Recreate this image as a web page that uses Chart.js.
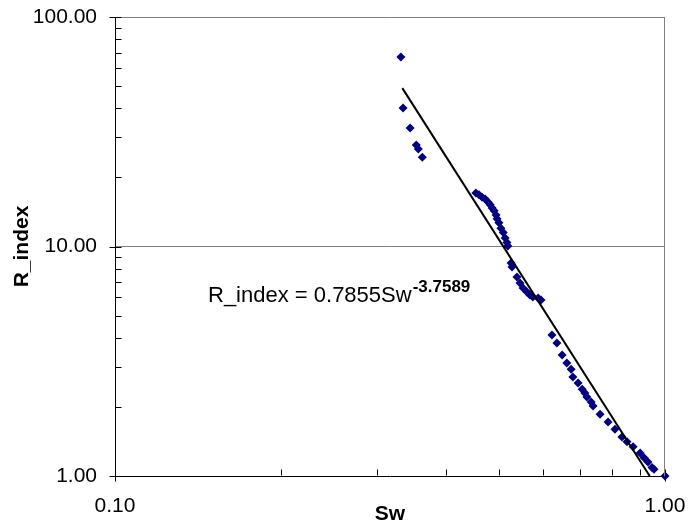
<!DOCTYPE html>
<html><head><meta charset="utf-8">
<script src="https://cdn.jsdelivr.net/npm/chart.js@4/dist/chart.umd.min.js"></script>
<style>html,body{margin:0;padding:0;background:#fff}canvas{display:block}</style>
</head><body>
<canvas id="c" width="690" height="527"></canvas>
<script>
const swValues = [0.331,0.334,0.344,0.353,0.356,0.362,
  0.453,0.459,0.465,0.471,0.477,0.481,0.485,0.489,0.493,0.495,0.499,0.503,0.508,0.512,0.516,0.518,
  0.525,0.527,0.538,0.545,0.552,0.561,0.568,0.575,0.588,0.595,
  0.623,0.636,0.650,0.663,0.675,0.680,0.695,0.707,0.715,0.721,0.734,0.740,0.762,0.788,0.811,0.835,
  0.853,0.875,0.901,0.916,0.931,0.947,0.955,1.000];
const rIndexValues = [66.9,40.1,32.8,27.7,26.6,24.5,
  17.1,16.8,16.4,16.1,15.6,15.2,14.7,14.3,13.7,13.2,12.7,12.0,11.5,10.9,10.4,10.05,
  8.48,8.14,7.36,6.93,6.60,6.34,6.15,6.03,5.97,5.85,
  4.12,3.80,3.37,3.11,2.92,2.70,2.54,2.39,2.30,2.21,2.10,2.02,1.86,1.72,1.60,1.48,
  1.41,1.34,1.26,1.20,1.15,1.09,1.07,1.00];
const trendSw = [0.333, 0.938];
const trendR = [49.0, 1.0];
const xTickValues = [0.1, 1];
const yTickValues = [1, 10, 100];
const xMinorTicks = [0.2,0.3,0.4,0.5,0.6,0.7,0.8,0.9];
const yMinorTicks = [2,3,4,5,6,7,8,9,20,30,40,50,60,70,80,90];
const equationMain = 'R_index = 0.7855Sw';
const equationExp = '-3.7589';

const FONT = 'Arial, "Liberation Sans", sans-serif';

const decor = {
  id: 'decor',
  afterDraw(chart) {
    const {ctx, chartArea: a, scales: {x, y}} = chart;
    ctx.save();
    ctx.strokeStyle = '#808080';
    ctx.lineWidth = 1;
    ctx.beginPath();
    const rx = Math.round(a.right) - 0.5;
    ctx.moveTo(rx, a.top); ctx.lineTo(rx, a.bottom);
    ctx.stroke();
    ctx.strokeStyle = '#000';
    const lx = Math.round(a.left) + 0.5;
    ctx.beginPath();
    yTickValues.forEach(v => {
      const py = Math.round(y.getPixelForValue(v)) + 0.5;
      ctx.moveTo(lx - 6, py); ctx.lineTo(lx + 6, py);
    });
    yMinorTicks.forEach(v => {
      const py = Math.round(y.getPixelForValue(v)) + 0.5;
      ctx.moveTo(lx, py); ctx.lineTo(lx + 6, py);
    });
    const by = Math.round(a.bottom) - 0.5;
    xTickValues.forEach(v => {
      const px = Math.round(x.getPixelForValue(v)) + 0.5;
      ctx.moveTo(px, by + 6); ctx.lineTo(px, by - 6);
    });
    xMinorTicks.forEach(v => {
      const px = Math.round(x.getPixelForValue(v)) + 0.5;
      ctx.moveTo(px, by); ctx.lineTo(px, by - 6);
    });
    ctx.stroke();
    ctx.fillStyle = '#000';
    ctx.textBaseline = 'alphabetic';
    ctx.textAlign = 'left';
    ctx.font = '22px ' + FONT;
    const ex = a.left + 93, ey = a.top + 285;
    ctx.fillText(equationMain, ex, ey);
    const w = ctx.measureText(equationMain).width;
    ctx.font = 'bold 17px ' + FONT;
    ctx.fillText(equationExp, ex + w + 1, ey - 10);
    ctx.restore();
  }
};

new Chart(document.getElementById('c'), {
  type: 'scatter',
  data: {
    datasets: [
      {
        label: 'R_index',
        data: swValues.map((v, i) => ({x: v, y: rIndexValues[i]})),
        pointStyle: 'rectRot',
        pointRadius: 4.5,
        backgroundColor: '#000080',
        borderColor: '#000080',
        borderWidth: 0,
        clip: 10,
        order: 1
      },
      {
        type: 'line',
        label: 'Power trend',
        data: trendSw.map((v, i) => ({x: v, y: trendR[i]})),
        borderColor: '#000',
        borderWidth: 2,
        pointRadius: 0,
        fill: false,
        tension: 0,
        order: 0
      }
    ]
  },
  options: {
    responsive: false,
    animation: false,
    devicePixelRatio: 1,
    layout: {padding: {top: 17, right: 25, left: 0, bottom: 0}},
    plugins: {legend: {display: false}, tooltip: {enabled: false}},
    scales: {
      x: {
        type: 'logarithmic',
        position: 'bottom',
        min: 0.1, max: 1,
        afterBuildTicks: s => { s.ticks = xTickValues.map(v => ({value: v})); },
        afterFit: s => { s.height = 51; s.paddingLeft = 0; s.paddingRight = 0; s.paddingTop = 0; s.paddingBottom = 0; },
        ticks: {
          callback: v => Number(v).toFixed(2),
          font: {family: FONT, size: 21}, color: '#000',
          padding: 18, maxRotation: 0, autoSkip: false
        },
        grid: {display: false, drawTicks: false},
        border: {display: true, color: '#000', width: 1},
        title: {display: true, text: 'Sw', color: '#000',
          font: {family: FONT, size: 21, weight: 'bold'}, padding: {top: 0, bottom: 0}}
      },
      y: {
        type: 'logarithmic',
        position: 'left',
        min: 1, max: 100,
        afterBuildTicks: s => { s.ticks = yTickValues.map(v => ({value: v})); },
        afterFit: s => { s.width = 115; s.paddingLeft = 0; s.paddingRight = 0; s.paddingTop = 0; s.paddingBottom = 0; },
        ticks: {
          callback: v => Number(v).toFixed(2),
          font: {family: FONT, size: 21}, color: '#000',
          padding: 18, autoSkip: false
        },
        grid: {
          drawTicks: false,
          lineWidth: 1,
          color: c => (c.tick && (c.tick.value === 10 || c.tick.value === 100)) ? '#808080' : 'rgba(0,0,0,0)'
        },
        border: {display: true, color: '#000', width: 1},
        title: {display: true, text: 'R_index', color: '#000',
          font: {family: FONT, size: 21, weight: 'bold'}, padding: {top: 10, bottom: 0}}
      }
    }
  },
  plugins: [decor]
});
</script>
</body></html>
